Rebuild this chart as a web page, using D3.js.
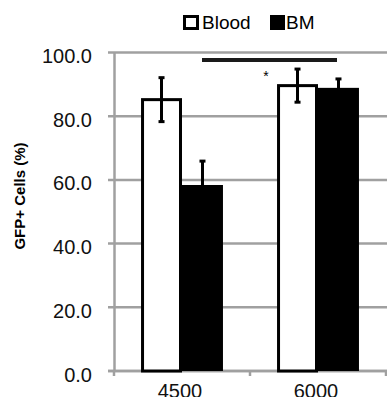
<!DOCTYPE html>
<html>
<head>
<meta charset="utf-8">
<script src="https://cdn.jsdelivr.net/npm/d3@7"></script>
<style>
  body { margin: 0; background: #fff; }
  svg text { font-family: Arial, "Liberation Sans", sans-serif; }
</style>
</head>
<body>
<div id="chart"></div>
<script>
// data
var categories = ["4500", "6000"];
var series = ["Blood", "BM"];
var bloodValues = [85.2, 89.6];
var bloodErrors = [6.9, 5.2];
var bmValues = [58.4, 88.9];
var bmErrors = [7.5, 2.8];
var yTicks = [0, 20, 40, 60, 80, 100];

var width = 387, height = 397;
var plotLeft = 114, plotRight = 386, plotTop = 52.5, plotBottom = 371;

var svg = d3.select("#chart").append("svg")
  .attr("width", width)
  .attr("height", height);

var y = d3.scaleLinear().domain([0, 100]).range([plotBottom, plotTop]);
var x0 = d3.scaleBand().domain(categories).range([plotLeft, plotRight]).paddingInner(0).paddingOuter(0);
var x1 = d3.scaleBand().domain(series).range([0, x0.bandwidth()]).paddingInner(0).paddingOuter(0.66);

var grey = "#a0a0a0";

//------- GRID + Y AXIS -------
var grid = svg.append("g").attr("transform", "translate(" + plotLeft + ",0)");
grid.selectAll("line.grid")
  .data(yTicks)
  .enter().append("line")
  .attr("class", "grid")
  .attr("x1", -6).attr("x2", width - plotLeft)
  .attr("y1", function (d) { return y(d); })
  .attr("y2", function (d) { return y(d); })
  .attr("stroke", grey)
  .attr("stroke-width", 2.5);

var yAxis = svg.append("g")
  .attr("transform", "translate(" + plotLeft + ",0)")
  .call(d3.axisLeft(y).tickValues(yTicks).tickFormat(d3.format(".1f")).tickSize(0).tickPadding(22));
yAxis.select(".domain").attr("stroke", grey).attr("stroke-width", 2.5);
yAxis.selectAll("text")
  .attr("dy", "0.5em")
  .attr("fill", "#111")
  .style("font-size", "20px");

//------- X AXIS -------
var xAxis = svg.append("g")
  .attr("transform", "translate(0," + plotBottom + ")");
xAxis.append("line")
  .attr("x1", plotLeft - 6).attr("x2", width)
  .attr("stroke", grey).attr("stroke-width", 2.5);
xAxis.selectAll("line.tick")
  .data(categories.concat(["end"]))
  .enter().append("line")
  .attr("class", "tick")
  .attr("x1", function (d, i) { return plotLeft + i * x0.step(); })
  .attr("x2", function (d, i) { return plotLeft + i * x0.step(); })
  .attr("y1", 0).attr("y2", 5)
  .attr("stroke", grey).attr("stroke-width", 2.5);
xAxis.selectAll("text")
  .data(categories)
  .enter().append("text")
  .attr("x", function (d) { return x0(d) + x0.bandwidth() / 2 - 2; })
  .attr("y", 27)
  .attr("text-anchor", "middle")
  .attr("fill", "#111")
  .style("font-size", "20px")
  .text(function (d) { return d; });

//------- BARS -------
var rows = categories.map(function (c, i) {
  return [
    { cat: c, key: "Blood", value: bloodValues[i], err: bloodErrors[i] },
    { cat: c, key: "BM", value: bmValues[i], err: bmErrors[i] }
  ];
});

var groups = svg.selectAll("g.group")
  .data(rows)
  .enter().append("g")
  .attr("class", "group")
  .attr("transform", function (d) { return "translate(" + x0(d[0].cat) + ",0)"; });

groups.selectAll("rect")
  .data(function (d) { return d; })
  .enter().append("rect")
  .attr("x", function (d) { return d.key === "Blood" ? x1(d.key) + 1.5 : x1(d.key); })
  .attr("width", function (d) { return d.key === "Blood" ? x1.bandwidth() - 3 : x1.bandwidth(); })
  .attr("y", function (d) { return y(d.value); })
  .attr("height", function (d) { return y(0) - y(d.value); })
  .attr("fill", function (d) { return d.key === "Blood" ? "#fff" : "#000"; })
  .attr("stroke", function (d) { return d.key === "Blood" ? "#000" : "none"; })
  .attr("stroke-width", 3);

//------- ERROR BARS -------
var err = groups.selectAll("g.err")
  .data(function (d) { return d; })
  .enter().append("g")
  .attr("class", "err")
  .attr("transform", function (d) { return "translate(" + (x1(d.key) + x1.bandwidth() / 2) + ",0)"; });
err.append("line")
  .attr("y1", function (d) { return y(d.value - d.err); })
  .attr("y2", function (d) { return y(d.value + d.err); })
  .attr("stroke", "#000").attr("stroke-width", 3);
err.append("line")
  .attr("x1", -3).attr("x2", 3)
  .attr("y1", function (d) { return y(d.value + d.err); })
  .attr("y2", function (d) { return y(d.value + d.err); })
  .attr("stroke", "#000").attr("stroke-width", 3);
err.append("line")
  .attr("x1", -3).attr("x2", 3)
  .attr("y1", function (d) { return y(d.value - d.err); })
  .attr("y2", function (d) { return y(d.value - d.err); })
  .attr("stroke", "#000").attr("stroke-width", 3);

//------- SIGNIFICANCE -------
svg.append("line")
  .attr("x1", 202).attr("x2", 337)
  .attr("y1", 60).attr("y2", 60)
  .attr("stroke", "#1a1a1a").attr("stroke-width", 4);
svg.append("text")
  .attr("x", 266).attr("y", 81)
  .attr("text-anchor", "middle")
  .style("font-size", "14px")
  .text("*");

//------- Y TITLE -------
svg.append("text")
  .attr("transform", "translate(25,196) rotate(-90)")
  .attr("text-anchor", "middle")
  .style("font-size", "15px")
  .style("font-weight", "bold")
  .text("GFP+ Cells (%)");

//------- LEGEND -------
var legend = svg.append("g");
legend.append("rect")
  .attr("x", 184.5).attr("y", 16.5).attr("width", 13).attr("height", 12)
  .attr("fill", "#fff").attr("stroke", "#000").attr("stroke-width", 3);
legend.append("text")
  .attr("x", 202).attr("y", 28.5)
  .style("font-size", "19px")
  .text("Blood");
legend.append("rect")
  .attr("x", 270).attr("y", 15).attr("width", 15).attr("height", 15)
  .attr("fill", "#000");
legend.append("text")
  .attr("x", 286).attr("y", 28.5)
  .style("font-size", "19px")
  .text("BM");
</script>
</body>
</html>
